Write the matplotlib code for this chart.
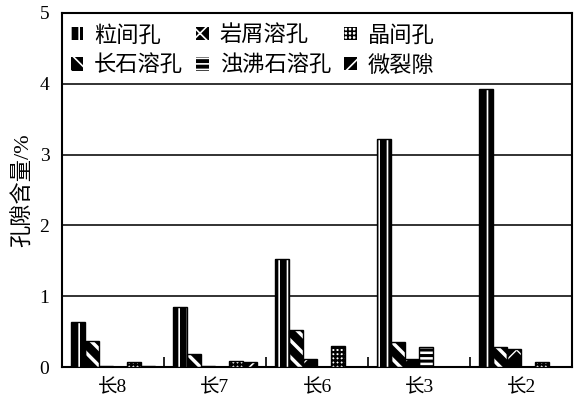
import numpy as np
import matplotlib
matplotlib.use('Agg')
import matplotlib.pyplot as plt

plt.rcParams['font.family'] = ['Liberation Serif', 'Noto Sans CJK SC']

# datos
capas = ['长8', '长7', '长6', '长3', '长2']
tipos = ['粒间孔', '长石溶孔', '岩屑溶孔', '浊沸石溶孔', '晶间孔', '微裂隙']
li_jian = [0.64, 0.85, 1.53, 3.22, 3.93]
chang_shi = [0.37, 0.18, 0.52, 0.35, 0.28]
yan_xie = [0.02, 0.02, 0.12, 0.12, 0.26]
zhuo_fei = [0.0, 0.0, 0.0, 0.28, 0.0]
jing_jian = [0.066, 0.08, 0.30, 0.0, 0.07]
wei_lie = [0.015, 0.066, 0.0, 0.0, 0.0]
valores = [li_jian, chang_shi, yan_xie, zhuo_fei, jing_jian, wei_lie]

tramas = ['||', '\\\\', 'x', '---', '++++', '//']
fondo = ['black', 'black', 'black', 'black', 'white', 'black']
color_trama = ['white', 'white', 'white', 'white', 'black', 'white']
grosor = [1.2, 2.5, 1.0, 1.8, 1.6, 1.2]

fig = plt.figure(figsize=(5.78, 4.03), dpi=100)
ax = fig.add_axes([0.107, 0.089, 0.883, 0.879])

x = np.arange(len(capas))
w = 0.137
handles = []
for i in range(len(tipos)):
    pos = x + (i - 2.5) * w
    plt.rcParams['hatch.linewidth'] = grosor[i]
    b = ax.bar(pos, valores[i], w, color=fondo[i], edgecolor=color_trama[i],
               hatch=tramas[i], linewidth=0, zorder=3, label=tipos[i])
    ax.bar(pos, valores[i], w, fill=False, edgecolor='black', linewidth=1, zorder=4)
    handles.append(b)

ax.set_xlim(-0.5, 4.5)
ax.set_ylim(0, 5)
ax.set_yticks([0, 1, 2, 3, 4, 5])
ax.set_xticks(x)
ax.set_xticklabels(capas, fontsize=14)
ax.set_xticks(np.arange(0.5, 4.5, 1), minor=True)
ax.tick_params(axis='x', which='major', length=0, pad=8)
ax.tick_params(axis='x', which='minor', direction='in', length=7, width=1.2)
ax.tick_params(axis='y', direction='in', length=0, labelsize=14, pad=9)
ax.yaxis.grid(True, color='#222222', linewidth=1.3)
for s in ax.spines.values():
    s.set_linewidth(1.5)
ax.set_ylabel('孔隙含量/%', fontsize=16, labelpad=4)

ax.legend(handles=handles, ncol=3, loc='upper left', bbox_to_anchor=(0, 0.99),
          frameon=False, fontsize=16, handlelength=0.55, handleheight=0.55,
          handletextpad=0.5, columnspacing=0.6, labelspacing=0.42, borderaxespad=0)

plt.savefig('out.png', dpi=100)
